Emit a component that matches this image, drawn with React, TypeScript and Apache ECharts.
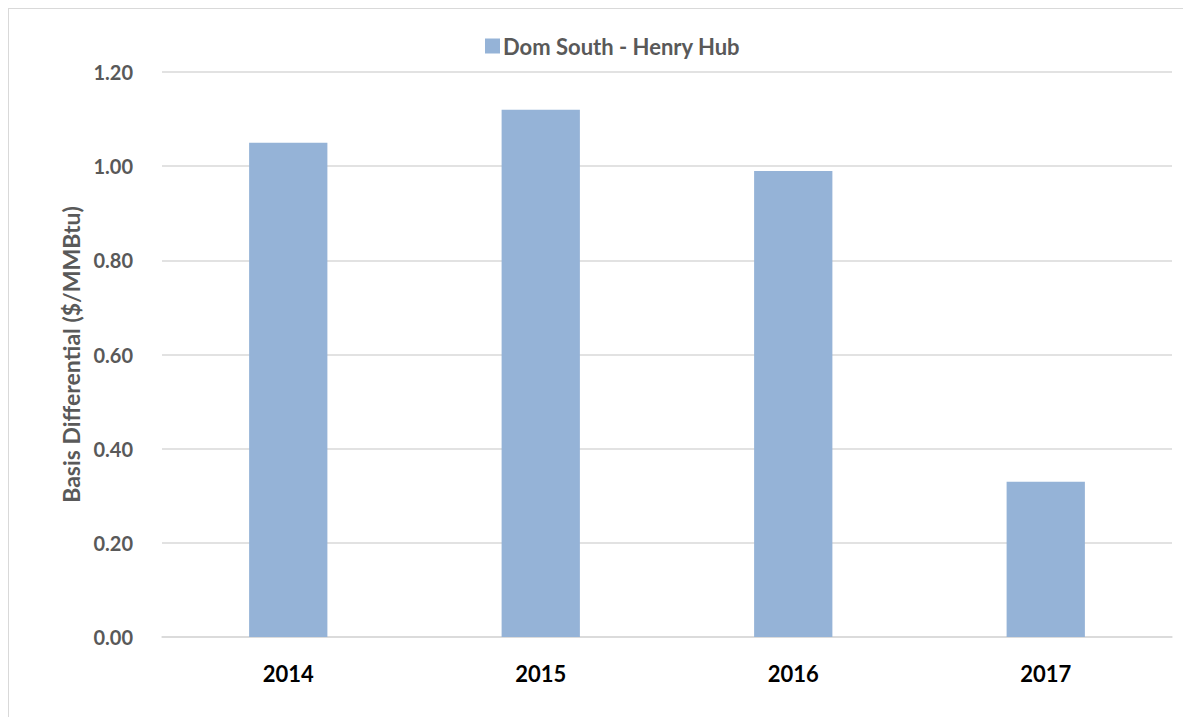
import React, { useEffect, useRef } from "react";
import * as echarts from "echarts";

const categories = ["2014", "2015", "2016", "2017"];
const seriesName = "Dom South - Henry Hub";
const values = [1.05, 1.12, 0.99, 0.33];
const yTicks = { min: 0, max: 1.2, interval: 0.2 };
const yTitle = "Basis Differential ($/MMBtu)";

export default function App() {
  const ref = useRef<HTMLDivElement>(null);
  useEffect(() => {
    if (!ref.current) return;
    const chart = echarts.init(ref.current, undefined, { renderer: "svg" });
    const font = "Lato";
    chart.setOption({
      animation: false,
      backgroundColor: "#ffffff",
      textStyle: { fontFamily: font },
      legend: {
        data: [seriesName],
        left: 471,
        top: 21,
        icon: "rect",
        itemWidth: 15,
        itemHeight: 15,
        itemGap: 7,
        textStyle: { fontFamily: font, fontWeight: "bold", fontSize: 22, color: "#595959", padding: [0, 0, 0, -2] },
      },
      grid: { left: 153, right: 19, top: 63, bottom: 80, containLabel: false },
      xAxis: {
        type: "category",
        data: categories,
        axisLine: { show: true, lineStyle: { color: "#d9d9d9", width: 1.5 } },
        axisTick: { show: false },
        axisLabel: { margin: 25, fontFamily: font, fontWeight: "bold", fontSize: 22, color: "#000000" },
      },
      yAxis: {
        type: "value",
        min: yTicks.min,
        max: yTicks.max,
        interval: yTicks.interval,
        name: yTitle,
        nameLocation: "middle",
        nameGap: 72,
        nameRotate: 90,
        nameTextStyle: { fontFamily: font, fontWeight: "bold", fontSize: 23, color: "#595959" },
        axisLine: { show: false },
        axisTick: { show: false },
        splitLine: { lineStyle: { color: "#d9d9d9", width: 1.5 } },
        axisLabel: {
          margin: 29,
          fontFamily: font,
          fontWeight: "bold",
          fontSize: 20,
          color: "#595959",
          formatter: (v: number) => v.toFixed(2),
        },
      },
      series: [
        {
          name: seriesName,
          type: "bar",
          data: values,
          barWidth: "31%",
          itemStyle: { color: "#95b3d7" },
        },
      ],
    });
    return () => chart.dispose();
  }, []);
  return (
    <div
      style={{
        width: 1183,
        height: 709,
        boxSizing: "border-box",
        borderTop: "1px solid #d9d9d9",
        borderLeft: "1px solid #d9d9d9",
      }}
    >
      <div ref={ref} style={{ width: 1182, height: 708 }} />
    </div>
  );
}
